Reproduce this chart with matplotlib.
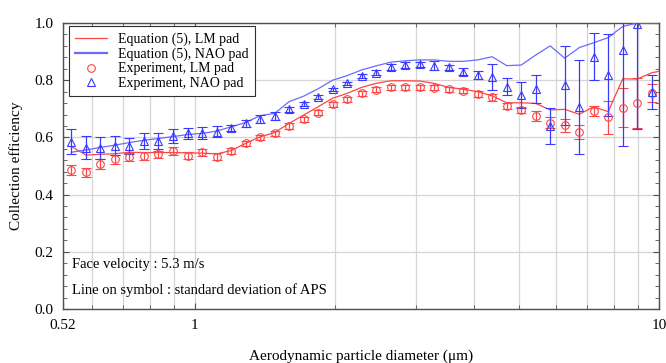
import numpy as np
import matplotlib
matplotlib.use("Agg")
import matplotlib.pyplot as plt
from matplotlib.lines import Line2D
from matplotlib.ticker import FixedLocator, FixedFormatter, LogLocator, NullFormatter, MultipleLocator

# APS channel midpoints (um)
diam = [0.542, 0.583, 0.626, 0.673, 0.723, 0.777, 0.835, 0.898, 0.965, 1.037,
        1.114, 1.197, 1.286, 1.382, 1.486, 1.596, 1.715, 1.843, 1.981, 2.129,
        2.288, 2.458, 2.642, 2.839, 3.051, 3.278, 3.523, 3.786, 4.068, 4.371,
        4.698, 5.048, 5.425, 5.829, 6.264, 6.732, 7.234, 7.774, 8.354, 8.977,
        9.647]
diam_eq = diam + [10.37]

# Equation (5) curves
eq_lm = [0.568, 0.538, 0.541, 0.543, 0.548, 0.547, 0.547, 0.547, 0.546, 0.545,
         0.542, 0.554, 0.579, 0.602, 0.617, 0.649, 0.678, 0.707, 0.737, 0.754,
         0.775, 0.789, 0.798, 0.798, 0.797, 0.789, 0.775, 0.768, 0.760, 0.745,
         0.721, 0.721, 0.719, 0.696, 0.698, 0.681, 0.707, 0.690, 0.805, 0.804,
         0.826, 0.836]
eq_nao = [0.548, 0.556, 0.565, 0.573, 0.582, 0.590, 0.596, 0.603, 0.610, 0.614,
          0.622, 0.637, 0.652, 0.676, 0.684, 0.725, 0.744, 0.770, 0.800, 0.816,
          0.836, 0.850, 0.863, 0.868, 0.871, 0.871, 0.866, 0.866, 0.871, 0.882,
          0.851, 0.853, 0.888, 0.920, 0.877, 0.914, 0.931, 0.949, 0.988, 1.0,
          1.0, 1.0]

# Experiment
exp_lm = [0.486, 0.478, 0.507, 0.523, 0.530, 0.536, 0.541, 0.552, 0.536, 0.548,
          0.533, 0.552, 0.579, 0.600, 0.614, 0.641, 0.664, 0.686, 0.716, 0.733,
          0.754, 0.766, 0.775, 0.775, 0.775, 0.774, 0.768, 0.763, 0.752, 0.740,
          0.710, 0.696, 0.675, 0.651, 0.643, 0.618, 0.692, 0.670, 0.704, 0.721,
          0.755]
err_lm = [0.016, 0.016, 0.016, 0.015, 0.014, 0.014, 0.013, 0.013, 0.013, 0.012,
          0.011, 0.011, 0.010, 0.010, 0.010, 0.010, 0.009, 0.009, 0.009, 0.009,
          0.009, 0.009, 0.009, 0.009, 0.009, 0.009, 0.009, 0.009, 0.010, 0.011,
          0.010, 0.010, 0.016, 0.019, 0.023, 0.025, 0.017, 0.059, 0.068, 0.087,
          0.030]
exp_nao = [0.585, 0.564, 0.562, 0.571, 0.571, 0.588, 0.588, 0.605, 0.614, 0.614,
           0.620, 0.634, 0.649, 0.664, 0.675, 0.698, 0.717, 0.742, 0.768, 0.789,
           0.815, 0.826, 0.847, 0.853, 0.855, 0.850, 0.845, 0.830, 0.818, 0.812,
           0.777, 0.747, 0.770, 0.639, 0.783, 0.707, 0.882, 0.818, 0.907, 0.998,
           0.758]
err_nao = [0.043, 0.041, 0.038, 0.033, 0.028, 0.028, 0.027, 0.024, 0.019, 0.021,
           0.019, 0.011, 0.013, 0.013, 0.013, 0.008, 0.006, 0.006, 0.006, 0.006,
           0.006, 0.008, 0.010, 0.012, 0.010, 0.016, 0.008, 0.012, 0.014, 0.045,
           0.030, 0.045, 0.048, 0.063, 0.138, 0.165, 0.083, 0.142, 0.337, 0.370,
           0.060]

red = '#ff4545'
blue = '#3a3aff'
blue_line = '#6a6aff'

plt.rcParams['font.family'] = ['Liberation Serif', 'DejaVu Serif']

fig = plt.figure(figsize=(6.66, 3.63), dpi=100)
ax = fig.add_axes([63 / 666, 1 - 309 / 363, 596 / 666, 286 / 363])

ax.plot(diam_eq, eq_lm, color=red, lw=0.9, zorder=3)
ax.plot(diam_eq, eq_nao, color=blue_line, lw=0.9, zorder=3)

ax.errorbar(diam, exp_lm, yerr=err_lm, fmt='o', ms=5.5, mfc='none', mec=red, mew=0.8,
            ecolor=red, elinewidth=0.9, capsize=3.5, capthick=0.9, zorder=4)
ax.errorbar(diam, exp_nao, yerr=err_nao, fmt='^', ms=6, mfc='none', mec=blue, mew=0.8,
            ecolor=blue, elinewidth=0.9, capsize=3.5, capthick=0.9, zorder=4)

ax.set_xscale('log')
ax.set_xlim(0.52, 10)
ax.set_ylim(0, 1.0)

ax.xaxis.set_major_locator(FixedLocator([0.52, 1, 10]))
ax.xaxis.set_major_formatter(FixedFormatter(['0.52', '1', '10']))
ax.xaxis.set_minor_locator(LogLocator(base=10, subs=np.arange(2, 10)))
ax.xaxis.set_minor_formatter(NullFormatter())
ax.yaxis.set_major_locator(MultipleLocator(0.2))
ax.yaxis.set_minor_locator(MultipleLocator(0.04))
ax.yaxis.set_major_formatter(plt.FuncFormatter(lambda v, p: f'{v:.1f}'))

ax.grid(True, which='both', axis='x', color='#d4d4d4', lw=0.9)
ax.grid(True, which='major', axis='y', color='#d4d4d4', lw=0.9)
ax.set_axisbelow(True)
ax.tick_params(which='both', direction='in', top=True, right=True,
               colors='#505050', labelcolor='black', labelsize=11)
ax.tick_params(which='major', length=4, pad=7)
ax.tick_params(which='minor', length=3)
for s in ax.spines.values():
    s.set_color('#505050')
    s.set_linewidth(1.0)

ax.set_xlabel('Aerodynamic particle diameter (\u03bcm)', fontsize=11, labelpad=13)
ax.set_ylabel('Collection efficiency', fontsize=11, labelpad=8)

ax.text(0.015, 0.155, 'Face velocity : 5.3 m/s', transform=ax.transAxes,
        fontsize=10.5, va='center', ha='left')
ax.text(0.015, 0.065, 'Line on symbol : standard deviation of APS', transform=ax.transAxes,
        fontsize=10.5, va='center', ha='left')

handles = [
    Line2D([], [], color=red, lw=0.9),
    Line2D([], [], color=blue_line, lw=1.6),
    Line2D([], [], ls='none', marker='o', ms=5.5, mfc='none', mec=red, mew=0.8),
    Line2D([], [], ls='none', marker='^', ms=6, mfc='none', mec=blue, mew=0.8),
]
labels = ['Equation (5), LM pad', 'Equation (5), NAO pad',
          'Experiment, LM pad', 'Experiment, NAO pad']
leg = ax.legend(handles, labels, loc='upper left', bbox_to_anchor=(0.01, 0.99),
                borderaxespad=0, fontsize=10, frameon=True, fancybox=False,
                edgecolor='#303030', framealpha=1, handlelength=2.3,
                labelspacing=0.12, borderpad=0.45)
leg.get_frame().set_linewidth(0.8)
leg.set_zorder(10)

fig.savefig('out.png', dpi=100)
